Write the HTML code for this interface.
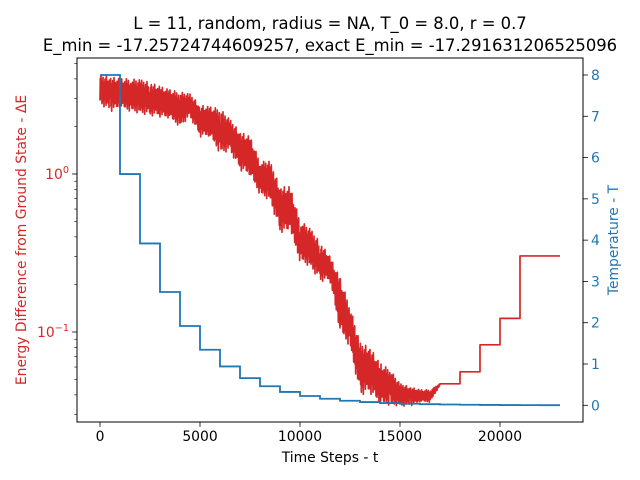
<!DOCTYPE html>
<html><head><meta charset="utf-8">
<style>
html,body{margin:0;padding:0;background:#fff;}
svg{display:block;font-family:"DejaVu Sans","Liberation Sans",sans-serif;}
</style></head>
<body>
<svg id="chart" width="640" height="480" viewBox="0 0 640 480" xmlns="http://www.w3.org/2000/svg">
<rect width="640" height="480" fill="#fff"/>
<text x="330" y="29" font-size="16.4" text-anchor="middle">L = 11, random, radius = NA, T_0 = 8.0, r = 0.7</text>
<text x="330" y="51" font-size="16.4" text-anchor="middle">E_min = -17.25724744609257, exact E_min = -17.291631206525096</text>
<text x="330" y="462" font-size="13.9" text-anchor="middle">Time Steps - t</text>
<text transform="translate(26,240) rotate(-90)" font-size="13.9" fill="#d62728" text-anchor="middle">Energy Difference from Ground State - ΔE</text>
<text transform="translate(618,240) rotate(-90)" font-size="13.9" fill="#1f77b4" text-anchor="middle">Temperature - T</text>
<g id="marks"></g>
<g id="axes"></g>
</svg>
<script>
// ---- data ----
const tempSteps = [0,1000,2000,3000,4000,5000,6000,7000,8000,9000,10000,11000,12000,13000,14000,15000,16000,17000,18000,19000,20000,21000,22000,23000];
const tempValues = [8,5.6,3.92,2.744,1.921,1.345,0.941,0.659,0.461,0.323,0.226,0.158,0.111,0.078,0.054,0.038,0.027,0.019,0.013,0.009,0.006,0.005,0.003,0.002];
const noisyStarts = [0,500,1000,1500,2000,2500,3000,3500,4000,4500,5000,5500,6000,6500,7000,7500,8000,8500,9000,9500,10000,10500,11000,11500,12000,12500,13000,13500,14000,14500,15000,15500,16000,16500,17000];
const noisyHigh = [4.2,4.13,4.0,4.0,3.94,3.8,3.57,3.4,3.3,3.2,2.73,2.65,2.6,2.2,1.85,1.72,1.2,1.2,0.83,0.83,0.51,0.45,0.37,0.3,0.22,0.145,0.085,0.08,0.063,0.058,0.047,0.045,0.043,0.043,0.047];
const noisyLow = [2.8,2.48,2.6,2.5,2.42,2.35,2.3,2.2,2.0,2.3,1.72,1.7,1.35,1.4,1.06,0.96,0.74,0.68,0.43,0.42,0.28,0.26,0.21,0.21,0.098,0.081,0.040,0.041,0.0345,0.0345,0.034,0.034,0.036,0.036,0.046];
const stepStarts = [17000,18000,19000,20000,21000,23000];
const stepValues = [0.047,0.056,0.083,0.122,0.303,0.303];
const xTicks = [0,5000,10000,15000,20000];
const tTicks = [0,1,2,3,4,5,6,7,8];

// ---- axes functions ----
const L=77,R=583,T=58,B=422;
const xS = t => 100 + t*0.02;
const yLog = v => 174 - Math.log10(v)*158;
const yT = v => 405.3 - v*41.29;
const NS="http://www.w3.org/2000/svg";
const marks=document.getElementById('marks'), axes=document.getElementById('axes');
function mk(tag,attrs,parent){const e=document.createElementNS(NS,tag);for(const k in attrs)e.setAttribute(k,attrs[k]);parent.appendChild(e);return e;}

// red noisy series (texture pattern is drawing style only)
const tex=[0.1,0.9,0.3,1.0,0.2,0.7,0.05,0.85,0.4,0.95,0.15,0.6,0.0,0.8,0.35,0.9,0.25,0.75,0.1,1.0,0.45,0.7,0.2,0.85,0.55,0.3,0.65,0.1,0.9,0.4];
let pts=[];
const NSEG=30;
for(let i=0;i<noisyStarts.length-1;i++){
  for(let k=0;k<NSEG;k++){
    const f=k/NSEG;
    const t=noisyStarts[i]+(noisyStarts[i+1]-noisyStarts[i])*f;
    const lh=Math.log10(noisyHigh[i])*(1-f)+Math.log10(noisyHigh[i+1])*f;
    const ll=Math.log10(noisyLow[i])*(1-f)+Math.log10(noisyLow[i+1])*f;
    const v=Math.pow(10, ll+(lh-ll)*tex[(k+i*7)%tex.length]);
    pts.push(xS(t).toFixed(2)+','+yLog(v).toFixed(2));
  }
}
let d='M'+pts.join(' L');
stepStarts.forEach((s,i)=>{
  if(i>0) d+=' L'+xS(s).toFixed(2)+','+yLog(stepValues[i-1]).toFixed(2);
  d+=' L'+xS(s).toFixed(2)+','+yLog(stepValues[i]).toFixed(2);
});
const red=mk('path',{d:d,fill:'none',stroke:'#d62728','stroke-width':1.7,'stroke-linejoin':'round'},marks);



// blue temperature steps
let db='';
tempSteps.forEach((s,i)=>{
  if(i===0) db='M'+xS(s)+','+yT(tempValues[0]).toFixed(2);
  else {
    db+=' L'+xS(s)+','+yT(tempValues[i-1]).toFixed(2);
    if(i<tempSteps.length-1) db+=' L'+xS(s)+','+yT(tempValues[i]).toFixed(2);
  }
});
const blue=mk('path',{d:db,fill:'none',stroke:'#1f77b4','stroke-width':1.8},marks);



// frame
const fr=mk('rect',{x:L,y:T,width:R-L,height:B-T,fill:'none',stroke:'#000','stroke-width':1},axes);



// x ticks
xTicks.forEach(v=>{
  const x=xS(v);
  const tk=mk('line',{x1:x,x2:x,y1:B,y2:B+4.9,stroke:'#000','stroke-width':0.8},axes);
  
  
  const lb=mk('text',{x:x,y:B+19,'font-size':13.9,'text-anchor':'middle'},axes);
  lb.textContent=v;
  
  
});

// right ticks
tTicks.forEach(v=>{
  const y=yT(v);
  const tk=mk('line',{x1:R,x2:R+4.9,y1:y,y2:y,stroke:'#000','stroke-width':0.8},axes);
  
  
  const lb=mk('text',{x:R+8,y:y+5,'font-size':13.9,fill:'#1f77b4'},axes);
  lb.textContent=v;
  
  
});

// left log ticks
[0.03,0.04,0.05,0.06,0.07,0.08,0.09,0.2,0.3,0.4,0.5,0.6,0.7,0.8,0.9,2,3,4,5].forEach(v=>{
  const y=yLog(v);
  if(y<T||y>B) return;
  const tk=mk('line',{x1:L-2.8,x2:L,y1:y,y2:y,stroke:'#000','stroke-width':0.6},axes);
  
  
});
[[1,'0'],[0.1,'−1']].forEach(([v,e])=>{
  const y=yLog(v);
  const tk=mk('line',{x1:L-4.9,x2:L,y1:y,y2:y,stroke:'#000','stroke-width':0.8},axes);
  
  
  const lb=mk('text',{x:L-8,y:y+5,'font-size':13.9,fill:'#d62728','text-anchor':'end'},axes);
  
  
  const b=mk('tspan',{},lb); b.textContent='10';
  const s=mk('tspan',{dy:-6,'font-size':9.7},lb); s.textContent=e;
});
</script>
</body></html>
